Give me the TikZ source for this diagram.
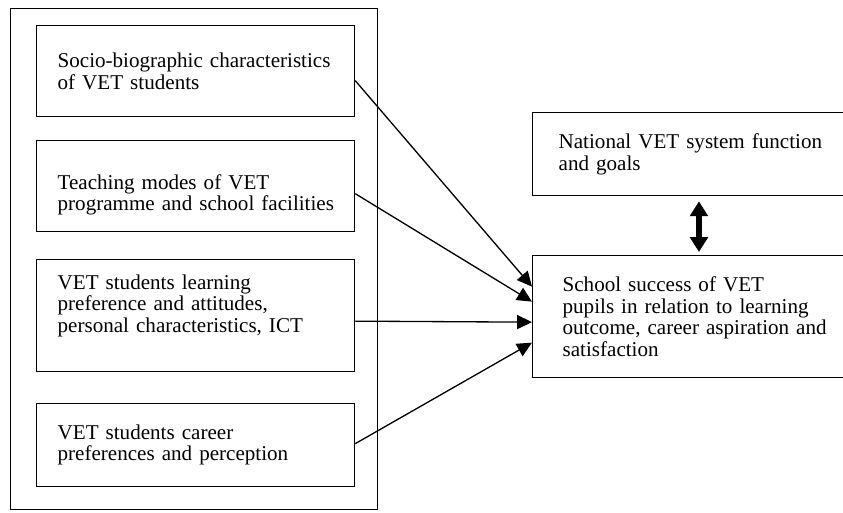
\documentclass[tikz,border=0pt]{standalone}
\usepackage{fontspec}
\setmainfont{Liberation Serif}
\usetikzlibrary{arrows.meta, positioning, calc}

\begin{document}
\begin{tikzpicture}[
    x=0.02cm, y=-0.02cm,
    factor/.style={rectangle, draw, line width=0.75pt, anchor=north west, text width=5.52cm, inner xsep=0.42cm, align=left, minimum width=6.36cm, font=\fontsize{12}{12.2}\selectfont},
    outcome/.style={rectangle, draw, line width=0.75pt, anchor=north west, text width=5.4cm, align=left, font=\fontsize{12}{12.2}\selectfont},
    link/.style={-{Triangle[length=8.5pt, width=8pt]}, line width=0.75pt},
    mutual/.style={{Triangle[length=8.5pt, width=10pt]}-{Triangle[length=8.5pt, width=10pt]}, line width=3.2pt}
]
\useasboundingbox (0,0) rectangle (843,512);

% Frame round the factors
\node[draw, line width=0.75pt, anchor=north west, minimum width=7.34cm, minimum height=10.02cm] (pane) at (10,8) {};

% Factors
\node[factor, minimum height=1.82cm] (socio) at (36,25) {Socio-biographic characteristics\\of VET students};
\node[factor, minimum height=1.82cm, text height=0.65cm] (teach) at (36,140) {Teaching modes of VET\\\mbox{programme and school facilities}};
\node[factor, minimum height=2.24cm, text depth=1.35cm] (learn) at (36,259) {VET students learning\\preference and attitudes,\\\mbox{personal characteristics, ICT}};
\node[factor, minimum height=1.66cm] (career) at (36,403) {VET students career\\preferences and perception};

% Right side
\node[outcome, inner xsep=0.52cm, minimum height=1.66cm] (national) at (532,112) {National VET system function\\and goals};
\node[outcome, inner xsep=0.6cm, minimum height=2.44cm] (success) at (532,255) {School success of VET\\pupils in relation to learning\\\mbox{outcome, career aspiration and}\\satisfaction};

% Arrows
\draw[link] ([yshift=-0.19cm]socio.east) -- ([yshift=0.6cm]success.west);
\draw[link] ([yshift=-0.15cm]teach.east) -- ([yshift=0.3cm]success.west);
\draw[link] ([yshift=-0.11cm]learn.east) -- ([yshift=-0.11cm]success.west);
\draw[link] ([yshift=0.03cm]career.east) -- ([yshift=-0.52cm]success.west);
\draw[mutual, shorten <=0.1cm, shorten >=0.06cm] ([xshift=3.34cm]national.south west) -- ([xshift=3.34cm]success.north west);

\end{tikzpicture}
\end{document}
